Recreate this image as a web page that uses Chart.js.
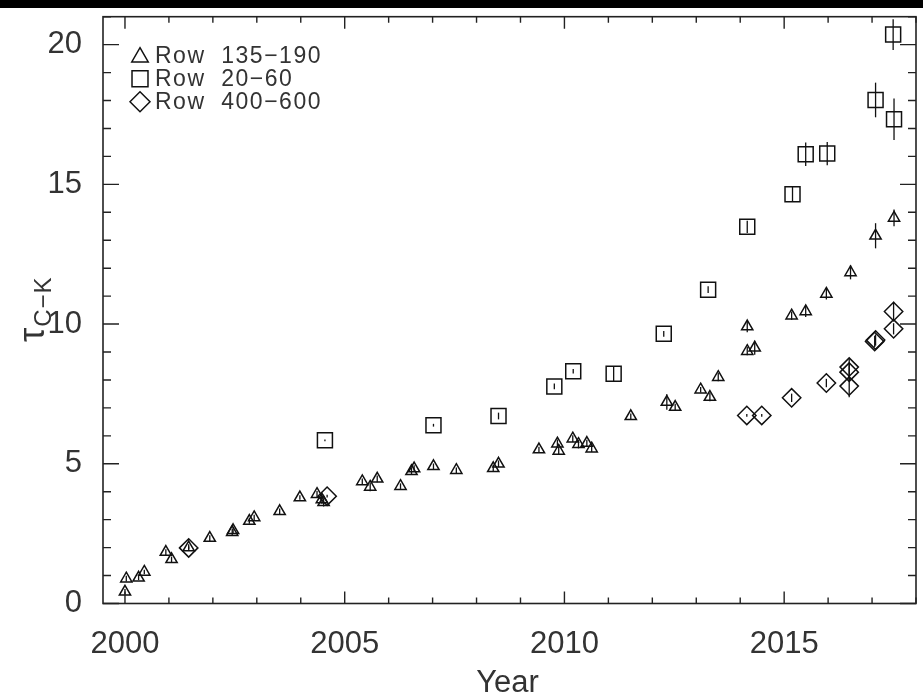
<!DOCTYPE html>
<html>
<head>
<meta charset="utf-8">
<script src="https://cdn.jsdelivr.net/npm/chart.js@4.4.1/dist/chart.umd.min.js"></script>
<style>
  html, body { margin: 0; padding: 0; background: #fff; }
  #wrap { position: relative; width: 923px; height: 699px; overflow: hidden; }
  #band { position: absolute; left: 0; top: 0; width: 923px; height: 8px; background: #000; z-index: 2; }
  canvas { position: absolute; left: 0; top: 0; }
</style>
</head>
<body>
<div id="wrap">
  <div id="band"></div>
  <canvas id="c" width="923" height="699"></canvas>
</div>
<script>
// ---- data ----
const seriesLabels = ['Row  135\u2212190', 'Row  20\u221260', 'Row  400\u2212600'];
const xTickLabels = [2000, 2005, 2010, 2015];
const yTickLabels = [0, 5, 10, 15, 20];

const triX = [2000.00, 2000.03, 2000.31, 2000.44, 2000.93, 2001.06, 2001.45, 2001.93, 2002.44, 2002.46,
              2002.83, 2002.94, 2003.52, 2003.98, 2004.37, 2004.48, 2004.52, 2005.40, 2005.58, 2005.74,
              2006.27, 2006.52, 2006.58, 2007.02, 2007.54, 2008.38, 2008.50, 2009.42, 2009.84, 2009.87,
              2010.19, 2010.32, 2010.51, 2010.62, 2011.51, 2012.33, 2012.52, 2013.10, 2013.31, 2013.50,
              2014.16, 2014.16, 2014.33, 2015.17, 2015.49, 2015.96, 2016.51, 2017.08, 2017.50];
const triY = [0.42, 0.89, 0.92, 1.13, 1.84, 1.58, 2.00, 2.34, 2.55, 2.62,
              2.95, 3.08, 3.30, 3.79, 3.91, 3.72, 3.62, 4.37, 4.17, 4.46,
              4.20, 4.73, 4.83, 4.91, 4.77, 4.84, 5.00, 5.51, 5.72, 5.46,
              5.90, 5.70, 5.74, 5.54, 6.70, 7.21, 7.03, 7.65, 7.39, 8.10,
              9.91, 9.03, 9.15, 10.30, 10.45, 11.08, 11.85, 13.16, 13.80];
const triErr = [0.10, 0.10, 0.08, 0.08, 0.10, 0.10, 0.12, 0.10, 0.12, 0.12,
                0.10, 0.10, 0.10, 0.08, 0.12, 0.15, 0.15, 0.10, 0.15, 0.12,
                0.10, 0.12, 0.12, 0.10, 0.10, 0.12, 0.12, 0.10, 0.15, 0.15,
                0.12, 0.15, 0.12, 0.12, 0.10, 0.28, 0.12, 0.10, 0.15, 0.15,
                0.20, 0.15, 0.25, 0.15, 0.20, 0.20, 0.25, 0.45, 0.30];

const sqX = [2004.55, 2007.02, 2008.50, 2009.77, 2010.20, 2011.12, 2012.26, 2013.27,
             2014.16, 2015.19, 2015.49, 2015.98, 2017.08, 2017.48, 2017.50];
const sqY = [5.84, 6.38, 6.71, 7.77, 8.31, 8.22, 9.65, 11.23,
             13.48, 14.65, 16.08, 16.10, 18.02, 20.36, 17.33];
const sqErr = [0.03, 0.05, 0.12, 0.10, 0.08, 0.27, 0.10, 0.12,
               0.22, 0.27, 0.42, 0.42, 0.62, 0.55, 0.74];

const diaX = [2001.45, 2004.60, 2014.15, 2014.49, 2015.17, 2015.96, 2016.48, 2016.48, 2016.48,
              2017.08, 2017.06, 2017.49, 2017.49];
const diaY = [1.99, 3.84, 6.73, 6.73, 7.36, 7.89, 8.46, 8.28, 7.78,
              9.43, 9.38, 10.45, 9.83];
const diaErr = [0.05, 0.05, 0.05, 0.05, 0.15, 0.15, 0.30, 0.30, 0.40,
                0.20, 0.20, 0.35, 0.20];

// ---- build datasets ----
function pts(xs, ys) { return xs.map((x, i) => ({ x: x, y: ys[i] })); }

const INK = '#111';
const TXT = '#333';
const FONT = "'Liberation Sans', Arial, sans-serif";

const datasets = [
  { label: seriesLabels[0], data: pts(triX, triY), errors: triErr, pointStyle: 'triangle', pointRadius: 6.5, legendRadius: 9.5 },
  { label: seriesLabels[1], data: pts(sqX, sqY), errors: sqErr, pointStyle: 'rect', pointRadius: 10.6, legendRadius: 11.3 },
  { label: seriesLabels[2], data: pts(diaX, diaY), errors: diaErr, pointStyle: 'rectRot', pointRadius: 9.2, legendRadius: 10 }
].map(d => Object.assign({
  showLine: false,
  borderColor: INK,
  backgroundColor: 'rgba(0,0,0,0)',
  pointBorderWidth: 1.5,
  pointHoverRadius: d.pointRadius,
  pointBackgroundColor: 'rgba(0,0,0,0)',
  pointBorderColor: INK
}, d));

// ---- plugin: frame, inward ticks, error bars, legend, axis titles ----
const decor = {
  id: 'decor',
  afterDatasetsDraw(chart) {
    const ctx = chart.ctx;
    const xs = chart.scales.x, ys = chart.scales.y;
    ctx.save();
    ctx.strokeStyle = INK;
    ctx.lineWidth = 1.3;
    chart.data.datasets.forEach((ds) => {
      ds.data.forEach((p, j) => {
        const e = ds.errors[j];
        const px = xs.getPixelForValue(p.x);
        ctx.beginPath();
        ctx.moveTo(px, ys.getPixelForValue(p.y + e));
        ctx.lineTo(px, ys.getPixelForValue(p.y - e));
        ctx.stroke();
      });
    });
    ctx.restore();
  },
  afterDraw(chart) {
    const ctx = chart.ctx;
    const a = chart.chartArea;
    const xs = chart.scales.x, ys = chart.scales.y;
    ctx.save();
    ctx.strokeStyle = '#222';
    ctx.lineWidth = 1.6;
    ctx.strokeRect(a.left, a.top, a.right - a.left, a.bottom - a.top);
    ctx.lineWidth = 1.4;
    for (let v = Math.ceil(xs.min); v <= Math.floor(xs.max); v++) {
      const px = xs.getPixelForValue(v);
      const len = (v % 5 === 0) ? 12 : 6;
      ctx.beginPath();
      ctx.moveTo(px, a.bottom); ctx.lineTo(px, a.bottom - len);
      ctx.moveTo(px, a.top); ctx.lineTo(px, a.top + len);
      ctx.stroke();
    }
    for (let v = Math.ceil(ys.min); v <= Math.floor(ys.max); v++) {
      const py = ys.getPixelForValue(v);
      const len = (v % 5 === 0) ? 16 : 8;
      ctx.beginPath();
      ctx.moveTo(a.left, py); ctx.lineTo(a.left + len, py);
      ctx.moveTo(a.right, py); ctx.lineTo(a.right - len, py);
      ctx.stroke();
    }
    // legend
    const lx = a.left + 37, ly0 = a.top + 39, lstep = 23;
    chart.data.datasets.forEach((ds, i) => {
      const y = ly0 + i * lstep;
      ctx.strokeStyle = INK;
      ctx.fillStyle = 'rgba(0,0,0,0)';
      ctx.lineWidth = 1.5;
      Chart.helpers.drawPoint(ctx, { pointStyle: ds.pointStyle, radius: ds.legendRadius, borderWidth: 1.5, rotation: 0 }, lx, y + (i === 0 ? 1.5 : 0));
      ctx.fillStyle = TXT;
      ctx.font = '23px ' + FONT;
      ctx.textAlign = 'left';
      ctx.textBaseline = 'middle';
      ctx.letterSpacing = '1.5px';
      ctx.fillText(ds.label, lx + 15, y + 1);
    });
    ctx.letterSpacing = '0px';
    // x title
    ctx.fillStyle = TXT;
    ctx.font = '31px ' + FONT;
    ctx.textAlign = 'center';
    ctx.textBaseline = 'alphabetic';
    ctx.fillText('Year', (a.left + a.right) / 2 - 2, 692);
    // y title: tau with subscript C-K
    ctx.translate(44, 342);
    ctx.rotate(-Math.PI / 2);
    ctx.textAlign = 'left';
    ctx.font = '36px ' + FONT;
    ctx.fillText('\u03C4', 0, 0);
    const w = ctx.measureText('\u03C4').width;
    ctx.font = '24px ' + FONT;
    ctx.letterSpacing = '1px';
    ctx.fillText('C\u2212K', w + 1, 7);
    ctx.restore();
  }
};

new Chart(document.getElementById('c'), {
  type: 'scatter',
  data: { datasets: datasets },
  options: {
    responsive: false,
    animation: false,
    events: [],
    layout: { autoPadding: false, padding: { top: 16.7, right: 7, left: 0, bottom: 0 } },
    plugins: { legend: { display: false }, tooltip: { enabled: false } },
    scales: {
      x: {
        type: 'linear', min: 1999.5, max: 2018,
        afterBuildTicks: s => { s.ticks = xTickLabels.map(v => ({ value: v })); },
        afterFit: s => { s.height = 95.5; s.paddingLeft = 0; s.paddingRight = 0; },
        grid: { display: false, drawTicks: false },
        border: { display: false },
        ticks: { color: TXT, padding: 22, font: { family: FONT, size: 31 }, callback: v => String(v) }
      },
      y: {
        type: 'linear', min: 0, max: 21,
        afterBuildTicks: s => { s.ticks = yTickLabels.map(v => ({ value: v })); },
        afterFit: s => { s.width = 103; s.paddingTop = 0; s.paddingBottom = 0; },
        grid: { display: false, drawTicks: false },
        border: { display: false },
        ticks: { color: TXT, padding: 21, font: { family: FONT, size: 31 }, callback: v => String(v) }
      }
    }
  },
  plugins: [decor]
});
</script>
</body>
</html>
